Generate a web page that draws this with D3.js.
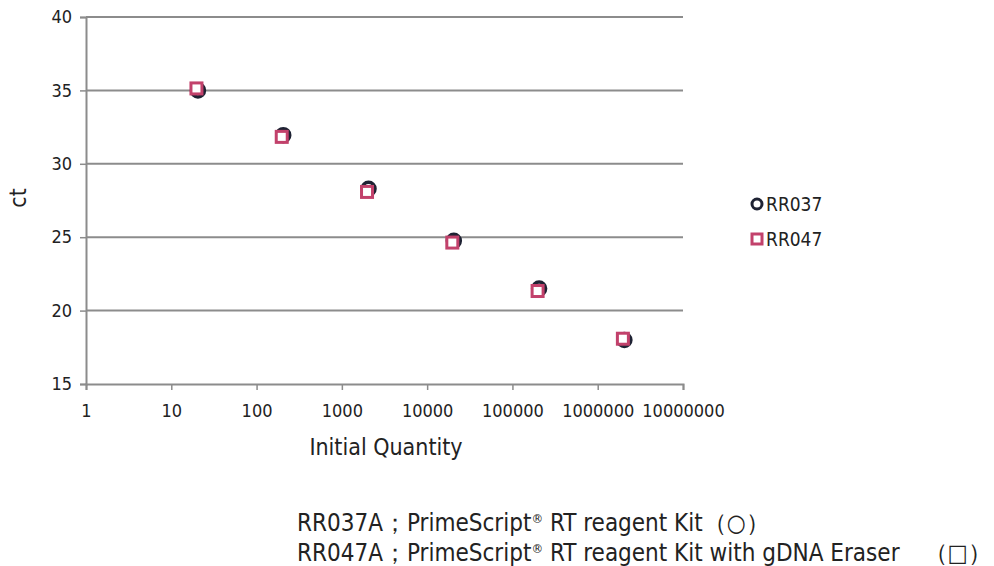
<!DOCTYPE html>
<html>
<head>
<meta charset="utf-8">
<script src="https://cdn.jsdelivr.net/npm/d3@7"></script>
<style>
  body { margin: 0; background: #fff; }
  svg text { font-family: "Liberation Sans Narrow", "DejaVu Sans Condensed", "Noto Sans", sans-serif; fill: #222; }
</style>
</head>
<body>
<div id="chart"></div>
<script>
// data
const quantities = [20, 200, 2000, 20000, 200000, 2000000];
const rr037 = [35.0, 31.95, 28.3, 24.75, 21.5, 18.0];
const rr047 = [35.1, 31.8, 28.05, 24.6, 21.3, 18.05];
const xTicks = [1, 10, 100, 1000, 10000, 100000, 1000000, 10000000];
const yTicks = [15, 20, 25, 30, 35, 40];
const seriesNames = ["RR037", "RR047"];
const notes = [
  ["RR037A；PrimeScript", "RT reagent Kit（○）"],
  ["RR047A；PrimeScript", "RT reagent Kit with gDNA Eraser　（□）"]
];

const W = 994, H = 566;
const margin = { top: 17, left: 86 };
const width = 683 - 86;
const height = 384 - 17;

const svg = d3.select("#chart")
  .append("svg")
  .attr("width", W)
  .attr("height", H);

const g = svg.append("g")
  .attr("transform", `translate(${margin.left},${margin.top})`);

const x = d3.scaleLog()
  .domain([1, 10000000])
  .range([0, width]);

const y = d3.scaleLinear()
  .domain([15, 40])
  .range([height, 0]);

// gridlines
g.selectAll(".grid")
  .data(yTicks.filter(d => d > 15))
  .enter()
  .append("line")
  .attr("x1", 0)
  .attr("x2", width)
  .attr("y1", d => y(d))
  .attr("y2", d => y(d))
  .attr("stroke", "#8c8c8c")
  .attr("stroke-width", 2);

// axes
const yAxis = g.append("g")
  .call(d3.axisLeft(y).tickValues(yTicks).tickSize(6).tickPadding(8));
const xAxis = g.append("g")
  .attr("transform", `translate(0,${height})`)
  .call(d3.axisBottom(x).tickValues(xTicks).tickFormat(d3.format("d")).tickSize(6).tickPadding(14));

[yAxis, xAxis].forEach(a => {
  a.select(".domain").attr("stroke", "#8c8c8c").attr("stroke-width", 2);
  a.selectAll(".tick line").attr("stroke", "#8c8c8c").attr("stroke-width", 1.5);
  a.selectAll(".tick text").style("font-size", "18px").attr("fill", "#222");
});

// axis titles
svg.append("text")
  .attr("x", 386)
  .attr("y", 455)
  .attr("text-anchor", "middle")
  .style("font-size", "23px")
  .text("Initial Quantity");

svg.append("text")
  .attr("transform", "translate(26,198) rotate(-90)")
  .attr("text-anchor", "middle")
  .style("font-size", "23px")
  .text("ct");

// points
const circleColor = "#1e2233";
const squareColor = "#c2416b";

g.selectAll(".c037")
  .data(quantities.map((q, i) => ({ q, v: rr037[i] })))
  .enter()
  .append("circle")
  .attr("cx", d => x(d.q) + 1)
  .attr("cy", d => y(d.v))
  .attr("r", 6.5)
  .attr("fill", "#fff")
  .attr("stroke", circleColor)
  .attr("stroke-width", 3.5);

g.selectAll(".s047")
  .data(quantities.map((q, i) => ({ q, v: rr047[i] })))
  .enter()
  .append("rect")
  .attr("x", d => x(d.q) - 6)
  .attr("y", d => y(d.v) - 6)
  .attr("width", 11)
  .attr("height", 11)
  .attr("fill", "#fff")
  .attr("stroke", squareColor)
  .attr("stroke-width", 3);

// legend
const legend = svg.append("g").attr("transform", "translate(757,204)");
legend.append("circle")
  .attr("cx", 0).attr("cy", 0).attr("r", 5)
  .attr("fill", "#fff").attr("stroke", circleColor).attr("stroke-width", 3);
legend.append("rect")
  .attr("x", -5).attr("y", 30).attr("width", 10).attr("height", 10)
  .attr("fill", "#fff").attr("stroke", squareColor).attr("stroke-width", 3);
legend.selectAll(".lt")
  .data(seriesNames)
  .enter()
  .append("text")
  .attr("x", 9)
  .attr("y", (d, i) => i * 35 + 7)
  .style("font-size", "19px")
  .text(d => d);

// notes below the chart
const note = svg.selectAll(".note")
  .data(notes)
  .enter()
  .append("text")
  .attr("x", 297)
  .attr("y", (d, i) => 531 + i * 30)
  .style("font-size", "24px");
note.append("tspan").text(d => d[0]);
note.append("tspan")
  .attr("dy", -8)
  .style("font-size", "13px")
  .text("\u00AE");
note.append("tspan")
  .attr("dy", 8)
  .text(d => " " + d[1]);
</script>
</body>
</html>
